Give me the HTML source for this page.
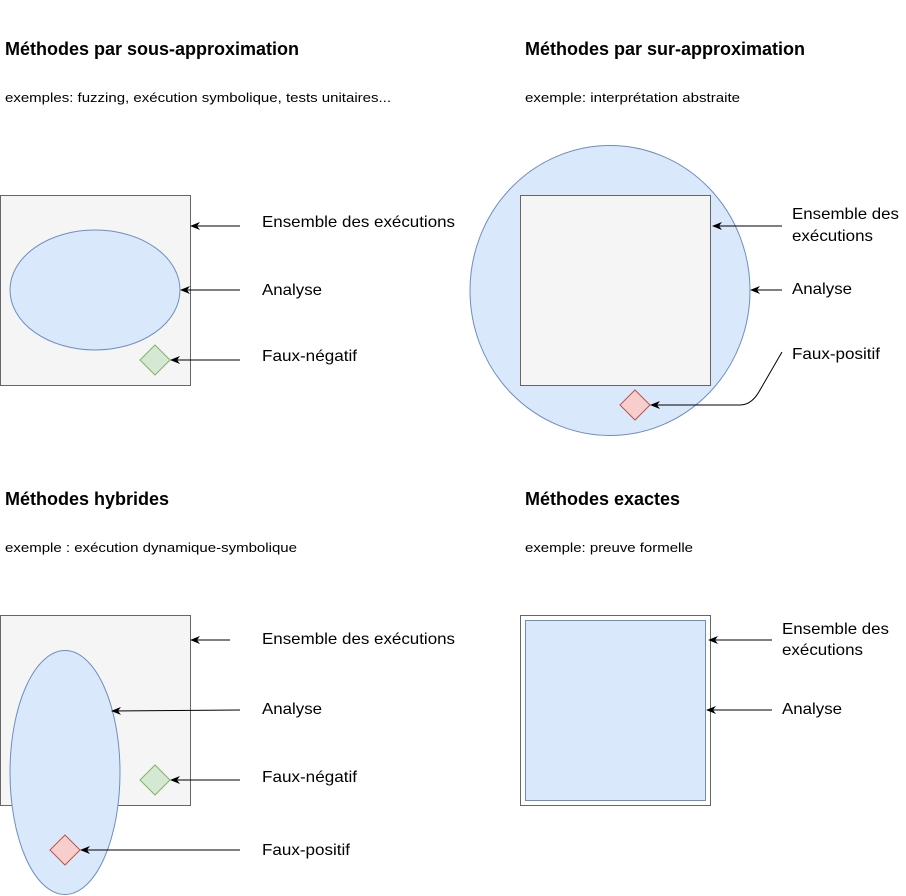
<!DOCTYPE html>
<html><head><meta charset="utf-8"><style>
html,body{margin:0;padding:0;background:#fff}
svg{display:block}
text{font-family:"Liberation Sans",sans-serif;fill:#000}
.t{font-size:18px;font-weight:bold}
.s{font-size:13px}
.l{font-size:16px}
.ar{stroke:#000;stroke-width:1;fill:none;marker-end:url(#ah)}
</style></head><body>
<svg width="906" height="896" viewBox="0 0 906 896">
<defs><marker id="ah" markerWidth="10" markerHeight="8" refX="9" refY="4" orient="auto" markerUnits="userSpaceOnUse"><path d="M0,0 L10,4 L0,8 L3,4 Z" fill="#000"/></marker></defs>

<g>
<text class="t" x="5" y="55" textLength="294" lengthAdjust="spacingAndGlyphs">Méthodes par sous-approximation</text>
<text class="s" x="5" y="102" textLength="386" lengthAdjust="spacingAndGlyphs">exemples: fuzzing, exécution symbolique, tests unitaires...</text>
<rect x="0.5" y="195.5" width="190" height="190" fill="#f5f5f5" stroke="#666"/>
<ellipse cx="95" cy="290" rx="85" ry="60" fill="#dae8fc" stroke="#6c8ebf"/>
<path d="M155,345 L170,360 L155,375 L140,360 Z" fill="#d5e8d4" stroke="#82b366"/>
<line class="ar" x1="240" y1="226" x2="191" y2="226"/>
<line class="ar" x1="240" y1="290" x2="181" y2="290"/>
<line class="ar" x1="240" y1="360" x2="171" y2="360"/>
<text class="l" x="262" y="227" textLength="193" lengthAdjust="spacingAndGlyphs">Ensemble des exécutions</text>
<text class="l" x="262" y="295" textLength="60" lengthAdjust="spacingAndGlyphs">Analyse</text>
<text class="l" x="262" y="361" textLength="95" lengthAdjust="spacingAndGlyphs">Faux-négatif</text>
</g>

<g>
<text class="t" x="525" y="55" textLength="280" lengthAdjust="spacingAndGlyphs">Méthodes par sur-approximation</text>
<text class="s" x="525" y="102" textLength="215" lengthAdjust="spacingAndGlyphs">exemple: interprétation abstraite</text>
<ellipse cx="610" cy="290.5" rx="140" ry="145" fill="#dae8fc" stroke="#6c8ebf"/>
<rect x="520.5" y="195.5" width="190" height="190" fill="#f5f5f5" stroke="#666"/>
<path d="M635,390 L650,405 L635,420 L620,405 Z" fill="#f8cecc" stroke="#b85450"/>
<line class="ar" x1="782" y1="226" x2="713" y2="226"/>
<line class="ar" x1="782" y1="290" x2="751" y2="290"/>
<path class="ar" d="M782,352 L760,390 Q752,405 740,405 L651,405"/>
<text class="l" x="792" y="219" textLength="107" lengthAdjust="spacingAndGlyphs">Ensemble des</text>
<text class="l" x="792" y="241" textLength="81" lengthAdjust="spacingAndGlyphs">exécutions</text>
<text class="l" x="792" y="294" textLength="60" lengthAdjust="spacingAndGlyphs">Analyse</text>
<text class="l" x="792" y="359" textLength="88" lengthAdjust="spacingAndGlyphs">Faux-positif</text>
</g>

<g>
<text class="t" x="5" y="505" textLength="164" lengthAdjust="spacingAndGlyphs">Méthodes hybrides</text>
<text class="s" x="5" y="552" textLength="292" lengthAdjust="spacingAndGlyphs">exemple : exécution dynamique-symbolique</text>
<rect x="0.5" y="615.5" width="190" height="190" fill="#f5f5f5" stroke="#666"/>
<ellipse cx="65" cy="772.5" rx="55" ry="122" fill="#dae8fc" stroke="#6c8ebf"/>
<path d="M155,765 L170,780 L155,795 L140,780 Z" fill="#d5e8d4" stroke="#82b366"/>
<path d="M65,835 L80,850 L65,865 L50,850 Z" fill="#f8cecc" stroke="#b85450"/>
<line class="ar" x1="230" y1="640" x2="191" y2="640"/>
<line class="ar" x1="240" y1="710" x2="112" y2="711"/>
<line class="ar" x1="240" y1="780" x2="171" y2="780"/>
<line class="ar" x1="240" y1="850" x2="81" y2="850"/>
<text class="l" x="262" y="644" textLength="193" lengthAdjust="spacingAndGlyphs">Ensemble des exécutions</text>
<text class="l" x="262" y="714" textLength="60" lengthAdjust="spacingAndGlyphs">Analyse</text>
<text class="l" x="262" y="782" textLength="95" lengthAdjust="spacingAndGlyphs">Faux-négatif</text>
<text class="l" x="262" y="855" textLength="88" lengthAdjust="spacingAndGlyphs">Faux-positif</text>
</g>

<g>
<text class="t" x="525" y="505" textLength="155" lengthAdjust="spacingAndGlyphs">Méthodes exactes</text>
<text class="s" x="525" y="552" textLength="168" lengthAdjust="spacingAndGlyphs">exemple: preuve formelle</text>
<rect x="520.5" y="615.5" width="190" height="190" fill="#fff" stroke="#666"/>
<rect x="525.5" y="620.5" width="180" height="180" fill="#dae8fc" stroke="#6c8ebf"/>
<line class="ar" x1="772" y1="640" x2="709" y2="640"/>
<line class="ar" x1="772" y1="710" x2="707" y2="710"/>
<text class="l" x="782" y="634" textLength="107" lengthAdjust="spacingAndGlyphs">Ensemble des</text>
<text class="l" x="782" y="655" textLength="81" lengthAdjust="spacingAndGlyphs">exécutions</text>
<text class="l" x="782" y="714" textLength="60" lengthAdjust="spacingAndGlyphs">Analyse</text>
</g>
</svg>
</body></html>
